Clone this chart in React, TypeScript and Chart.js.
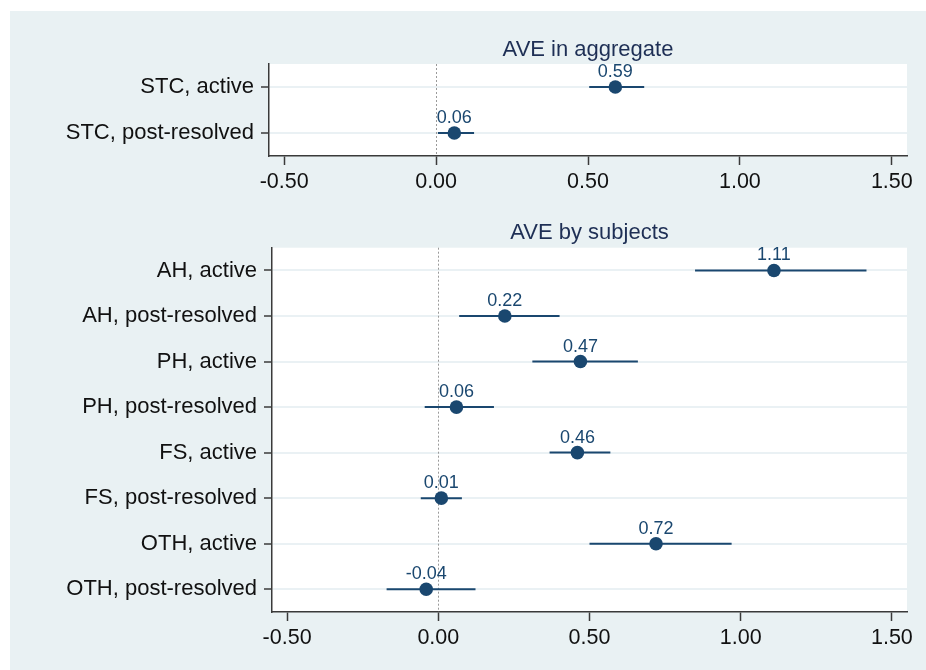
import React, { useEffect, useRef } from "react";
import { Chart, registerables } from "chart.js";

Chart.register(...registerables);

const FONT = '"Liberation Sans", Arial, Helvetica, sans-serif';
const NAVY = "#1a476f";

// Top panel: AVE in aggregate
const aggLabels = ["STC, active", "STC, post-resolved"];
const aggEst = [0.59, 0.06];
const aggLo = [0.504, 0.006];
const aggHi = [0.685, 0.125];

// Bottom panel: AVE by subjects
const subjLabels = [
  "AH, active",
  "AH, post-resolved",
  "PH, active",
  "PH, post-resolved",
  "FS, active",
  "FS, post-resolved",
  "OTH, active",
  "OTH, post-resolved",
];
const subjEst = [1.11, 0.22, 0.47, 0.06, 0.46, 0.01, 0.72, -0.04];
const subjLo = [0.849, 0.069, 0.311, -0.045, 0.368, -0.058, 0.5, -0.171];
const subjHi = [1.416, 0.401, 0.66, 0.184, 0.569, 0.078, 0.97, 0.123];

const xTicks = [-0.5, 0, 0.5, 1, 1.5];
const xMin = -0.55;
const xMax = 1.55;

const forestPlugin = {
  id: "forest",
  beforeDraw(chart: any) {
    const { ctx, chartArea: a } = chart;
    ctx.save();
    ctx.fillStyle = "#ffffff";
    ctx.fillRect(a.left, a.top, a.right - a.left, a.bottom - a.top);
    ctx.restore();
  },
  beforeDatasetsDraw(chart: any, _args: any, opts: any) {
    const { ctx, chartArea: a, scales } = chart;
    const xs = scales.x;
    const ys = scales.y;
    ctx.save();
    // zero reference line
    const x0 = Math.round(xs.getPixelForValue(0)) + 0.5;
    ctx.strokeStyle = "#9a9a9a";
    ctx.lineWidth = 1;
    ctx.setLineDash([2, 2]);
    ctx.beginPath();
    ctx.moveTo(x0, a.top);
    ctx.lineTo(x0, a.bottom);
    ctx.stroke();
    ctx.setLineDash([]);
    // CI bars
    ctx.strokeStyle = NAVY;
    ctx.lineWidth = 2;
    opts.lo.forEach((lo: number, i: number) => {
      const y = ys.getPixelForValue(i + 1);
      ctx.beginPath();
      ctx.moveTo(xs.getPixelForValue(lo), y);
      ctx.lineTo(xs.getPixelForValue(opts.hi[i]), y);
      ctx.stroke();
    });
    ctx.restore();
  },
  afterDatasetsDraw(chart: any, _args: any, opts: any) {
    const { ctx, chartArea: a, scales } = chart;
    const xs = scales.x;
    const ys = scales.y;
    ctx.save();
    ctx.fillStyle = NAVY;
    ctx.font = `18px ${FONT}`;
    ctx.textAlign = "center";
    ctx.textBaseline = "alphabetic";
    opts.est.forEach((v: number, i: number) => {
      ctx.fillText(v.toFixed(2), xs.getPixelForValue(v), ys.getPixelForValue(i + 1) - 10);
    });
    // title
    ctx.fillStyle = "#1e2f55";
    ctx.font = `22px ${FONT}`;
    ctx.fillText(opts.title, (a.left + a.right) / 2, a.top - opts.titleGap);
    ctx.restore();
  },
};

function makeConfig(
  labels: string[],
  est: number[],
  lo: number[],
  hi: number[],
  title: string,
  yWidth: number,
  xHeight: number,
  topPad: number,
  titleGap: number
): any {
  return {
    type: "scatter",
    data: {
      datasets: [
        {
          data: est.map((v, i) => ({ x: v, y: i + 1 })),
          pointRadius: 6.8,
          pointHoverRadius: 6.8,
          backgroundColor: NAVY,
          borderWidth: 0,
          showLine: false,
        },
      ],
    },
    options: {
      animation: false,
      responsive: false,
      devicePixelRatio: 1,
      events: [],
      layout: { padding: { top: topPad, right: 19, bottom: 0, left: 0 } },
      plugins: {
        legend: { display: false },
        tooltip: { enabled: false },
        forest: { lo, hi, est, title, titleGap },
      },
      scales: {
        x: {
          type: "linear",
          min: xMin,
          max: xMax,
          afterBuildTicks: (s: any) => {
            s.ticks = xTicks.map((v) => ({ value: v }));
          },
          afterFit: (s: any) => {
            s.height = xHeight;
          },
          grid: {
            drawOnChartArea: false,
            drawTicks: true,
            tickLength: 9,
            tickColor: "#3a3a3a",
            tickWidth: 1.5,
          },
          border: { display: true, color: "#3a3a3a", width: 1.5 },
          ticks: {
            font: { family: FONT, size: 21.5 },
            color: "#111",
            padding: 4,
            maxRotation: 0,
            callback: (v: any) => Number(v).toFixed(2),
          },
        },
        y: {
          type: "linear",
          reverse: true,
          min: 0.5,
          max: labels.length + 0.5,
          afterBuildTicks: (s: any) => {
            s.ticks = labels.map((_, i) => ({ value: i + 1 }));
          },
          afterFit: (s: any) => {
            s.width = yWidth;
          },
          grid: {
            color: "#eaf1f4",
            lineWidth: 2,
            drawTicks: true,
            tickLength: 8,
            tickColor: "#3a3a3a",
            tickWidth: 1.5,
          },
          border: { display: true, color: "#3a3a3a", width: 1.5 },
          ticks: {
            font: { family: FONT, size: 22 },
            color: "#111",
            padding: 7,
            autoSkip: false,
            callback: (v: any) => labels[Number(v) - 1] ?? "",
          },
        },
      },
    },
    plugins: [forestPlugin],
  };
}

export default function App() {
  const topRef = useRef<HTMLCanvasElement>(null);
  const botRef = useRef<HTMLCanvasElement>(null);

  useEffect(() => {
    const c1 = new Chart(
      topRef.current!,
      makeConfig(aggLabels, aggEst, aggLo, aggHi, "AVE in aggregate", 259, 45, 53, 8)
    );
    const c2 = new Chart(
      botRef.current!,
      makeConfig(subjLabels, subjEst, subjLo, subjHi, "AVE by subjects", 262, 58, 46.7, 8.4)
    );
    return () => {
      c1.destroy();
      c2.destroy();
    };
  }, []);

  return (
    <div style={{ position: "absolute", left: 0, top: 0, width: 926, height: 670, background: "#fff" }}>
      <div
        style={{
          position: "absolute",
          left: 10,
          top: 11,
          width: 916,
          height: 659,
          background: "#e9f1f3",
        }}
      >
        <canvas
          ref={topRef}
          width={916}
          height={190}
          style={{ position: "absolute", left: 0, top: 0, width: 916, height: 190 }}
        />
        <canvas
          ref={botRef}
          width={916}
          height={469}
          style={{ position: "absolute", left: 0, top: 190, width: 916, height: 469 }}
        />
      </div>
    </div>
  );
}
